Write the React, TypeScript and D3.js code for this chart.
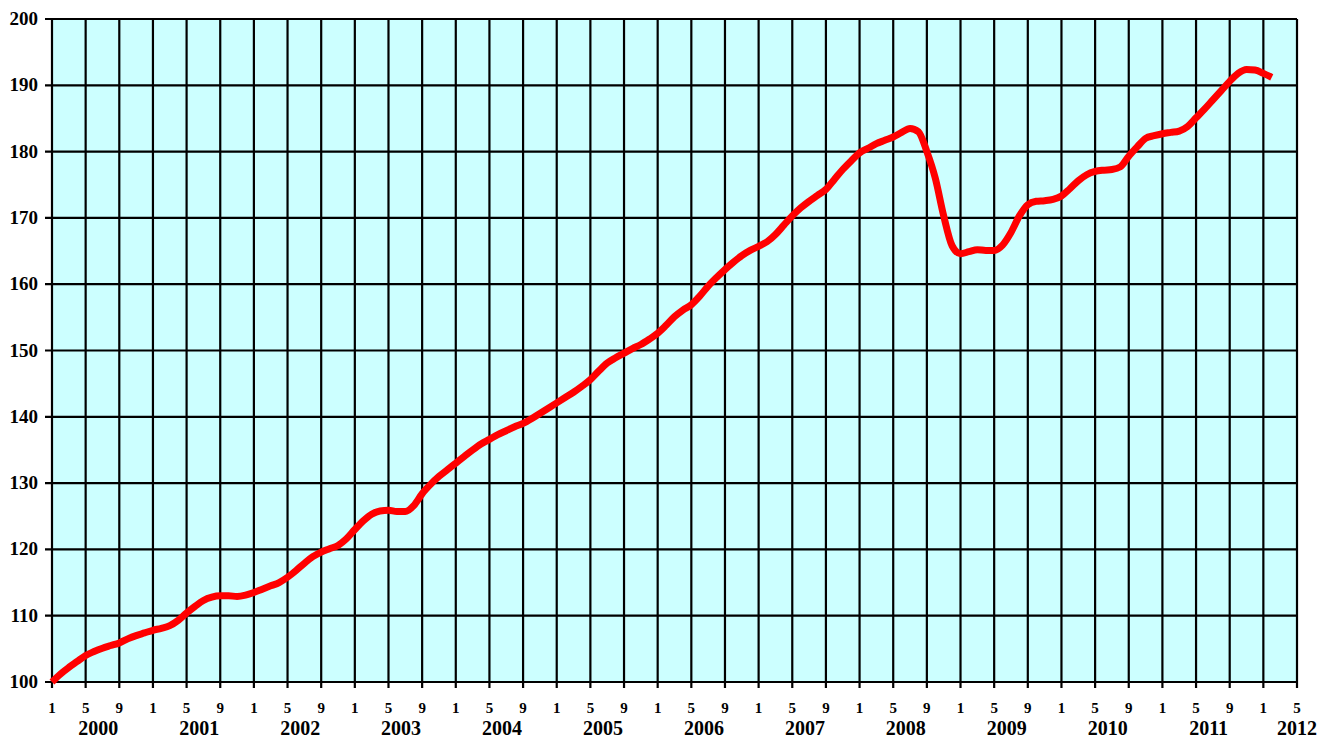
import React from "react";
import * as d3 from "d3";

// monthly index values, January 2000 = 100
const years = [2000, 2001, 2002, 2003, 2004, 2005, 2006, 2007, 2008, 2009, 2010, 2011, 2012];
const v2000 = [100.0, 101.2, 102.2, 103.1, 104.0, 104.6, 105.1, 105.5, 105.9, 106.5, 107.0, 107.4];
const v2001 = [107.8, 108.1, 108.5, 109.3, 110.4, 111.4, 112.3, 112.8, 113.0, 113.0, 112.9, 113.1];
const v2002 = [113.5, 114.0, 114.5, 115.0, 115.8, 116.8, 117.9, 118.9, 119.6, 120.1, 120.6, 121.6];
const v2003 = [123.0, 124.3, 125.3, 125.8, 125.9, 125.7, 125.7, 126.6, 128.4, 129.8, 131.0, 132.0];
const v2004 = [133.0, 134.0, 135.0, 135.9, 136.6, 137.3, 137.9, 138.5, 139.0, 139.7, 140.5, 141.3];
const v2005 = [142.1, 142.9, 143.7, 144.6, 145.6, 146.9, 148.1, 148.9, 149.6, 150.3, 150.9, 151.7];
const v2006 = [152.6, 153.8, 155.1, 156.1, 156.9, 158.2, 159.7, 161.0, 162.2, 163.3, 164.3, 165.1];
const v2007 = [165.7, 166.4, 167.5, 168.9, 170.3, 171.5, 172.5, 173.4, 174.3, 175.8, 177.3, 178.6];
const v2008 = [179.8, 180.5, 181.2, 181.7, 182.2, 182.9, 183.5, 183.0, 180.0, 176.0, 170.3, 165.8];
const v2009 = [164.6, 164.9, 165.2, 165.1, 165.1, 165.9, 167.8, 170.3, 172.0, 172.5, 172.6, 172.8];
const v2010 = [173.3, 174.4, 175.6, 176.5, 177.0, 177.2, 177.3, 177.7, 179.3, 180.7, 182.0, 182.4];
const v2011 = [182.7, 182.9, 183.1, 183.8, 185.1, 186.4, 187.8, 189.2, 190.6, 191.8, 192.4, 192.3];
const v2012 = [191.8, 191.2];
const series = [v2000, v2001, v2002, v2003, v2004, v2005, v2006, v2007, v2008, v2009, v2010, v2011, v2012];

const monthTicks = [1, 5, 9];
const yTicks = [100, 110, 120, 130, 140, 150, 160, 170, 180, 190, 200];
const lastMonth = 12 * 12 + 4; // May 2012

const App = () => {
    const ref = React.useRef<SVGSVGElement>(null);

    React.useEffect(() => {
        document.body.style.margin = "0";
        const svg = d3.select(ref.current);
        svg.selectAll("*").remove();

        const x = d3.scaleLinear().domain([0, lastMonth]).range([52, 1297]);
        const y = d3.scaleLinear().domain([100, 200]).range([682, 19]);
        const font = '"Liberation Serif", "Times New Roman", serif';

        // month index -> value
        const points: [number, number][] = [];
        series.forEach((arr, i) => arr.forEach((v, j) => points.push([i * 12 + j, v])));

        const tickMonths: { m: number; label: number }[] = [];
        years.forEach((yr, i) => {
            monthTicks.forEach((mt) => {
                const m = i * 12 + mt - 1;
                if (m <= lastMonth) tickMonths.push({ m, label: mt });
            });
        });

        // background
        svg.append("rect")
            .attr("x", x(0))
            .attr("y", y(200))
            .attr("width", x(lastMonth) - x(0))
            .attr("height", y(100) - y(200))
            .attr("fill", "#CCFFFF");

        const grid = svg.append("g").attr("stroke", "#000").attr("stroke-width", 2.2);
        yTicks.forEach((t) => {
            grid.append("line")
                .attr("x1", x(0) - 7).attr("x2", x(lastMonth))
                .attr("y1", y(t)).attr("y2", y(t));
        });
        tickMonths.forEach((t) => {
            grid.append("line")
                .attr("x1", x(t.m)).attr("x2", x(t.m))
                .attr("y1", y(200)).attr("y2", y(100) + 6);
        });

        // y labels
        svg.append("g").selectAll("text")
            .data(yTicks)
            .join("text")
            .attr("x", 38)
            .attr("y", (d) => y(d) + 6)
            .attr("text-anchor", "end")
            .attr("font-family", font)
            .attr("font-weight", "bold")
            .attr("font-size", "19px")
            .attr("fill", "#000")
            .text((d) => d);

        // month labels
        svg.append("g").selectAll("text")
            .data(tickMonths)
            .join("text")
            .attr("x", (d) => x(d.m))
            .attr("y", 713)
            .attr("text-anchor", "middle")
            .attr("font-family", font)
            .attr("font-weight", "bold")
            .attr("font-size", "15px")
            .attr("fill", "#000")
            .text((d) => d.label);

        // year labels
        svg.append("g").selectAll("text")
            .data(years)
            .join("text")
            .attr("x", (d, i) => x(Math.min(i * 12 + 5.5, lastMonth)))
            .attr("y", 735)
            .attr("text-anchor", "middle")
            .attr("font-family", font)
            .attr("font-weight", "bold")
            .attr("font-size", "20px")
            .attr("fill", "#000")
            .text((d) => d);

        const line = d3.line<[number, number]>()
            .x((d) => x(d[0]))
            .y((d) => y(d[1]))
            .curve(d3.curveMonotoneX);

        svg.append("path")
            .datum(points)
            .attr("d", line)
            .attr("fill", "none")
            .attr("stroke", "#FF0000")
            .attr("stroke-width", 7)
            .attr("stroke-linejoin", "round");
    }, []);

    return <svg ref={ref} width={1331} height={740} style={{ display: "block", background: "#fff" }}></svg>;
};

export default App;
